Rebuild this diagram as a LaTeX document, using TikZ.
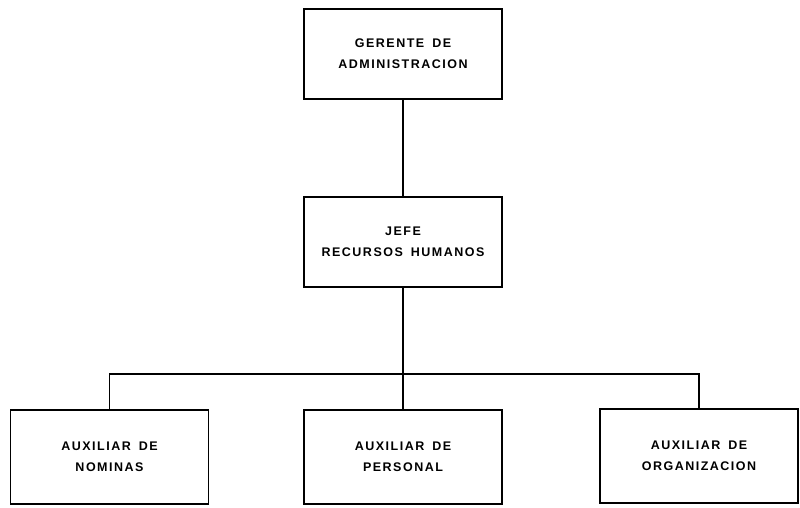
\documentclass[tikz,border=0pt]{standalone}
\usepackage{fontspec}
\setsansfont[LetterSpace=12,WordSpace=1.6]{Liberation Sans}
\begin{document}
\begin{tikzpicture}[x=1pt,y=1pt,
  orgbox/.style={draw,line width=1.6pt,minimum width=198pt,minimum height=90pt,
    inner sep=0pt,align=center,font=\sffamily\bfseries\fontsize{12.5}{21}\selectfont},
  link/.style={line width=2.4pt}]
\useasboundingbox (0,0) rectangle (800,-507);
\node[orgbox] (ger) at (403,-54) {GERENTE DE\\ADMINISTRACION};
\node[orgbox] (jefe) at (403,-242) {JEFE\\RECURSOS HUMANOS};
\node[orgbox,minimum height=94pt] (nom) at (109.5,-457) {AUXILIAR DE\\NOMINAS};
\node[orgbox,minimum height=94pt] (per) at (403,-457) {AUXILIAR DE\\PERSONAL};
\node[orgbox,minimum height=94pt] (org) at (699,-456) {AUXILIAR DE\\ORGANIZACION};
\coordinate (bus) at (403,-374);
\draw[link] (ger.south) -- (jefe.north);
\draw[link] (jefe.south) -- (bus);
\draw[line width=1.8pt] (nom.north) |- (bus) -| (org.north);
\draw[link] (bus) -- (per.north);
\end{tikzpicture}
\end{document}
